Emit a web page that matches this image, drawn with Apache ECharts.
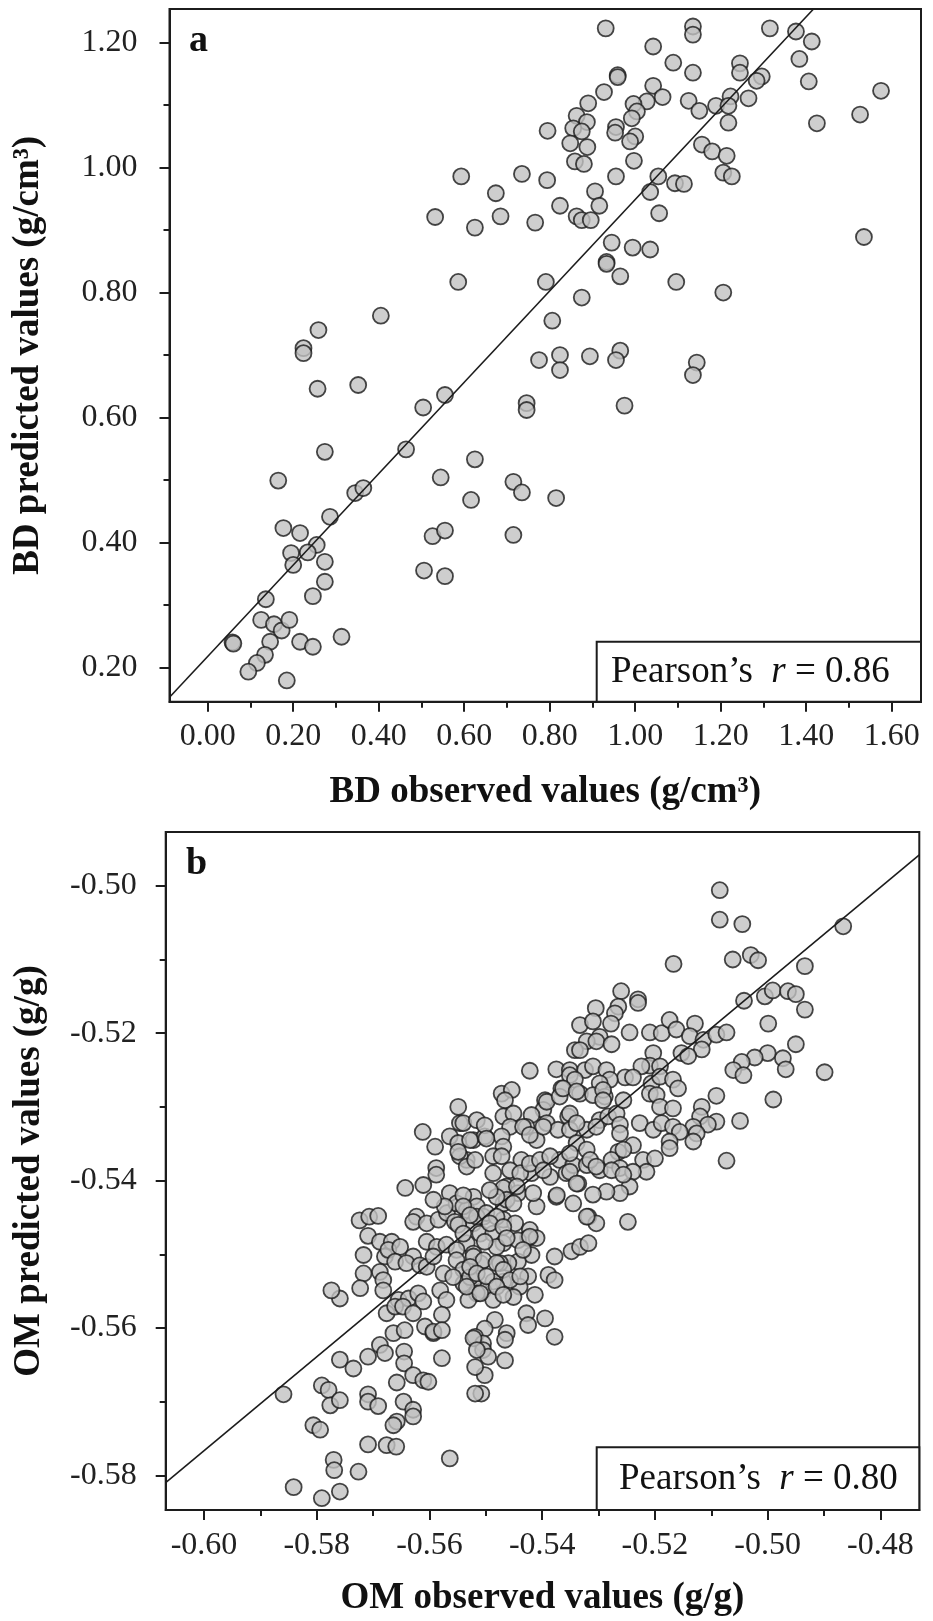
<!DOCTYPE html>
<html><head><meta charset="utf-8">
<script src="https://cdn.jsdelivr.net/npm/echarts@6/dist/echarts.min.js"></script>
<style>html,body{margin:0;padding:0;background:#fff}#c{width:933px;height:1621px}</style>
</head><body><div id="c"></div>
<script>
// ---------- DATA ----------
// Panel a: BD observed (x) vs predicted (y), g/cm3
const bdPoints = [
[0.931,1.223],[1.135,1.226],[1.135,1.213],[1.315,1.223],[1.376,1.218],[1.413,1.202],[1.042,1.194],[1.089,1.168],
[1.135,1.152],[1.245,1.167],[1.245,1.152],[1.384,1.174],[1.296,1.146],[1.284,1.139],[1.406,1.138],[1.575,1.123],
[0.959,1.148],[0.959,1.145],[0.927,1.121],[0.890,1.103],[0.863,1.083],[0.887,1.073],[0.855,1.063],[0.875,1.058],
[0.848,1.039],[0.888,1.033],[0.859,1.010],[0.880,1.006],[0.795,1.059],[1.042,1.131],[1.064,1.113],[1.027,1.106],
[0.996,1.102],[1.004,1.090],[0.992,1.079],[0.955,1.065],[0.953,1.056],[1.000,1.050],[0.988,1.042],[0.997,1.011],
[1.125,1.107],[1.150,1.091],[1.189,1.099],[1.223,1.114],[1.218,1.099],[1.265,1.111],[1.218,1.072],[1.425,1.071],
[1.526,1.085],[1.156,1.037],[1.180,1.026],[1.214,1.019],[1.206,0.992],[1.226,0.986],[1.054,0.986],[1.035,0.961],
[1.093,0.975],[1.114,0.974],[0.955,0.986],[0.906,0.962],[0.916,0.939],[0.824,0.939],[0.863,0.922],[0.875,0.916],
[0.896,0.916],[0.735,0.990],[0.794,0.980],[0.674,0.959],[0.685,0.922],[0.625,0.904],[0.766,0.912],[0.593,0.986],
[1.056,0.927],[0.945,0.880],[0.994,0.872],[1.035,0.869],[0.933,0.849],[0.933,0.846],[0.965,0.826],[1.096,0.817],
[1.206,0.800],[1.535,0.889],[0.791,0.817],[0.875,0.792],[0.806,0.755],[0.775,0.692],[0.824,0.700],[0.824,0.676],
[0.894,0.698],[0.965,0.707],[0.955,0.692],[1.144,0.688],[1.135,0.668],[0.586,0.817],
[0.746,0.623],[0.746,0.612],[0.975,0.619],[0.625,0.533],[0.715,0.497],[0.735,0.480],[0.616,0.468],[0.815,0.471],[0.715,0.412],
[0.224,0.711],[0.224,0.703],[0.259,0.740],[0.405,0.763],[0.532,0.921],
[0.257,0.646],[0.352,0.652],[0.504,0.616],[0.555,0.636],[0.274,0.545],[0.464,0.549],[0.165,0.499],[0.545,0.504],
[0.345,0.479],[0.364,0.487],[0.286,0.441],[0.177,0.423],[0.216,0.415],[0.526,0.410],[0.555,0.419],[0.255,0.396],
[0.234,0.384],[0.195,0.383],[0.200,0.364],[0.274,0.369],[0.274,0.337],[0.246,0.314],[0.136,0.309],[0.506,0.355],
[0.555,0.346],[0.125,0.276],[0.155,0.269],[0.173,0.259],[0.191,0.276],[0.146,0.241],[0.216,0.241],[0.246,0.233],
[0.313,0.249],[0.058,0.240],[0.060,0.238],[0.134,0.220],[0.115,0.207],[0.095,0.193],[0.185,0.179]
];
// Panel b: OM observed (x) vs predicted (y), g/g
const omPoints = [
[-0.5085,-0.5006],[-0.5085,-0.5046],[-0.5045,-0.5052],[-0.4866,-0.5055],[-0.5167,-0.5106],
[-0.5062,-0.5100],[-0.5030,-0.5094],[-0.5017,-0.5101],[-0.4934,-0.5109],
[-0.5260,-0.5143],[-0.5230,-0.5154],[-0.5230,-0.5159],[-0.5042,-0.5156],
[-0.5005,-0.5150],[-0.4991,-0.5142],[-0.4964,-0.5143],[-0.4950,-0.5147],[-0.4934,-0.5168],[-0.4999,-0.5187],
[-0.5305,-0.5166],[-0.5265,-0.5164],[-0.5271,-0.5173],[-0.5333,-0.5189],[-0.5310,-0.5184],[-0.5278,-0.5187],
[-0.5245,-0.5199],[-0.5209,-0.5199],[-0.5188,-0.5200],[-0.5174,-0.5182],[-0.5162,-0.5195],
[-0.5129,-0.5187],[-0.5138,-0.5204],[-0.5114,-0.5209],[-0.5091,-0.5202],[-0.5073,-0.5199],
[-0.5298,-0.5205],[-0.5321,-0.5211],[-0.5304,-0.5211],[-0.5277,-0.5215],[-0.5117,-0.5222],
[-0.5342,-0.5223],[-0.5333,-0.5223],[-0.5153,-0.5227],[-0.5141,-0.5231],[-0.4950,-0.5215],
[-0.4973,-0.5234],[-0.4968,-0.5249],[-0.5000,-0.5227],[-0.5023,-0.5233],
[-0.5046,-0.5239],[-0.5061,-0.5250],[-0.5043,-0.5257],[-0.4899,-0.5253],
[-0.5203,-0.5227],[-0.5209,-0.5244],[-0.5191,-0.5245],[-0.5224,-0.5245],
[-0.5375,-0.5249],[-0.5351,-0.5250],[-0.5324,-0.5250],[-0.5310,-0.5245],[-0.5422,-0.5251],
[-0.5286,-0.5250],[-0.5253,-0.5260],[-0.5239,-0.5260],[-0.5280,-0.5263],[-0.5298,-0.5268],[-0.5351,-0.5257],[-0.5342,-0.5263],
[-0.5366,-0.5275],[-0.5333,-0.5282],[-0.5310,-0.5284],[-0.5289,-0.5286],
[-0.5206,-0.5268],[-0.5191,-0.5259],[-0.5168,-0.5263],[-0.5159,-0.5275],[-0.5209,-0.5282],[-0.5197,-0.5284],
[-0.5091,-0.5285],[-0.4990,-0.5290],[-0.5117,-0.5300],[-0.5120,-0.5313],[-0.5049,-0.5319],
[-0.5091,-0.5320],[-0.5106,-0.5324],[-0.5132,-0.5327],[-0.5126,-0.5336],[-0.5132,-0.5347],
[-0.5472,-0.5282],[-0.5454,-0.5277],[-0.5466,-0.5291],[-0.5469,-0.5313],[-0.5451,-0.5309],[-0.5457,-0.5327],
[-0.5395,-0.5291],[-0.5398,-0.5304],[-0.5392,-0.5322],[-0.5419,-0.5311],[-0.5428,-0.5327],[-0.5410,-0.5345],
[-0.5372,-0.5331],[-0.5354,-0.5313],[-0.5351,-0.5331],[-0.5339,-0.5349],
[-0.5321,-0.5331],[-0.5298,-0.5318],[-0.5283,-0.5313],[-0.5268,-0.5309],[-0.5262,-0.5324],[-0.5262,-0.5336],
[-0.5227,-0.5322],[-0.5203,-0.5331],[-0.5188,-0.5322],[-0.5168,-0.5327],[-0.5156,-0.5334],
[-0.5191,-0.5300],[-0.5168,-0.5302],
[-0.5239,-0.5352],[-0.5265,-0.5361],[-0.5277,-0.5372],[-0.5262,-0.5383],
[-0.5221,-0.5372],[-0.5200,-0.5370],[-0.5215,-0.5388],[-0.5239,-0.5388],[-0.5174,-0.5347],[-0.5174,-0.5356],
[-0.5073,-0.5373],[-0.5245,-0.5408],[-0.5262,-0.5417],[-0.5286,-0.5415],[-0.5310,-0.5419],
[-0.5318,-0.5449],[-0.5304,-0.5458],[-0.5248,-0.5456],
[-0.5336,-0.5404],[-0.5345,-0.5431],[-0.5375,-0.5422],[-0.5410,-0.5435],
[-0.5487,-0.5390],[-0.5522,-0.5422],[-0.5534,-0.5372],[-0.5522,-0.5345],[-0.5546,-0.5322],
[-0.5502,-0.5340],[-0.5472,-0.5340],[-0.5469,-0.5354],[-0.5487,-0.5367],
[-0.5437,-0.5372],[-0.5419,-0.5390],[-0.5386,-0.5395],[-0.5369,-0.5372],[-0.5357,-0.5390],[-0.5345,-0.5379],
[-0.5463,-0.5408],[-0.5443,-0.5417],[-0.5416,-0.5417],[-0.5469,-0.5431],
[-0.5321,-0.5358],[-0.5321,-0.5379],[-0.5298,-0.5386],
[-0.5469,-0.5453],[-0.5448,-0.5458],[-0.5422,-0.5467],[-0.5522,-0.5458],[-0.5510,-0.5472],
[-0.5378,-0.5503],[-0.5348,-0.5496],[-0.5333,-0.5490],[-0.5318,-0.5485],
[-0.5425,-0.5478],[-0.5410,-0.5478],[-0.5443,-0.5481],[-0.5419,-0.5501],[-0.5443,-0.5510],[-0.5460,-0.5512],[-0.5475,-0.5512],
[-0.5389,-0.5528],[-0.5378,-0.5535],
[-0.5425,-0.5530],[-0.5440,-0.5544],[-0.5413,-0.5555],[-0.5451,-0.5558],[-0.5469,-0.5537],[-0.5487,-0.5537],
[-0.5505,-0.5549],[-0.5487,-0.5562],[-0.5522,-0.5537],
[-0.5428,-0.5580],[-0.5425,-0.5596],[-0.5395,-0.5587],[-0.5378,-0.5612],
[-0.5484,-0.5589],[-0.5502,-0.5601],[-0.5519,-0.5612],[-0.5505,-0.5621],[-0.5463,-0.5607],[-0.5466,-0.5616],[-0.5505,-0.5630],[-0.5496,-0.5639],[-0.5466,-0.5644],
[-0.5502,-0.5664],[-0.5508,-0.5689],
[-0.5534,-0.5485],[-0.5522,-0.5499],[-0.5510,-0.5512],
[-0.5487,-0.5472],[-0.5469,-0.5485],[-0.5481,-0.5490],[-0.5502,-0.5483],
[-0.5612,-0.5334],[-0.5590,-0.5354],[-0.5588,-0.5383],[-0.5588,-0.5392],[-0.5643,-0.5410],[-0.5611,-0.5406],
[-0.5549,-0.5300],[-0.5540,-0.5322],[-0.5564,-0.5340],[-0.5549,-0.5349],[-0.5528,-0.5345],
[-0.5546,-0.5367],[-0.5549,-0.5361],[-0.5534,-0.5381],[-0.5519,-0.5372],
[-0.5516,-0.5318],[-0.5502,-0.5325],[-0.5499,-0.5343],
[-0.5724,-0.5454],[-0.5707,-0.5449],[-0.5691,-0.5448],
[-0.5709,-0.5475],[-0.5717,-0.5501],[-0.5688,-0.5483],[-0.5667,-0.5483],
[-0.5623,-0.5449],[-0.5629,-0.5456],[-0.5605,-0.5458],[-0.5584,-0.5453],[-0.5569,-0.5444],[-0.5555,-0.5456],
[-0.5679,-0.5503],[-0.5673,-0.5494],[-0.5652,-0.5490],[-0.5629,-0.5503],[-0.5605,-0.5483],[-0.5587,-0.5490],[-0.5570,-0.5487],
[-0.5688,-0.5524],[-0.5682,-0.5535],[-0.5717,-0.5526],[-0.5723,-0.5546],[-0.5759,-0.5560],[-0.5774,-0.5549],
[-0.5661,-0.5510],[-0.5641,-0.5512],[-0.5617,-0.5515],[-0.5605,-0.5517],
[-0.5682,-0.5549],[-0.5655,-0.5562],[-0.5637,-0.5560],[-0.5620,-0.5553],[-0.5611,-0.5564],
[-0.5581,-0.5549],[-0.5570,-0.5562],[-0.5575,-0.5526],[-0.5593,-0.5503],
[-0.5552,-0.5494],[-0.5552,-0.5508],[-0.5540,-0.5521],[-0.5540,-0.5540],[-0.5528,-0.5531],[-0.5558,-0.5531],[-0.5516,-0.5553],[-0.5531,-0.5562],
[-0.5564,-0.5417],[-0.5552,-0.5431],[-0.5534,-0.5440],[-0.5573,-0.5435],[-0.5593,-0.5426],[-0.5540,-0.5420],
[-0.5516,-0.5435],[-0.5504,-0.5449],
[-0.5676,-0.5580],[-0.5661,-0.5571],[-0.5647,-0.5571],[-0.5629,-0.5580],[-0.5608,-0.5598],[-0.5593,-0.5607],
[-0.5664,-0.5607],[-0.5644,-0.5603],
[-0.5759,-0.5643],[-0.5735,-0.5655],[-0.5709,-0.5639],[-0.5859,-0.5690],[-0.5791,-0.5678],[-0.5779,-0.5684],
[-0.5776,-0.5705],[-0.5759,-0.5698],[-0.5806,-0.5732],[-0.5794,-0.5738],
[-0.5709,-0.5690],[-0.5709,-0.5700],[-0.5691,-0.5706],[-0.5709,-0.5758],[-0.5676,-0.5759],[-0.5659,-0.5761],
[-0.5770,-0.5779],[-0.5769,-0.5793],[-0.5726,-0.5795],[-0.5841,-0.5816],[-0.5791,-0.5831],[-0.5759,-0.5822],
[-0.5564,-0.5777],[-0.5688,-0.5623],[-0.5679,-0.5634],
[-0.5645,-0.5632],[-0.5645,-0.5648],[-0.5629,-0.5664],[-0.5611,-0.5671],[-0.5602,-0.5673],[-0.5658,-0.5674],
[-0.5646,-0.5700],[-0.5629,-0.5711],[-0.5629,-0.5720],[-0.5658,-0.5727],[-0.5664,-0.5732],
[-0.5578,-0.5641],[-0.5578,-0.5582],[-0.5593,-0.5605],[-0.5578,-0.5603],[-0.5522,-0.5614],[-0.5516,-0.5630],[-0.5519,-0.5653],[-0.5519,-0.5689],
// dense core (partly hidden circles)
[-0.5392,-0.5293],[-0.5369,-0.5286],[-0.5363,-0.5275],[-0.5339,-0.5279],[-0.5292,-0.5277],[-0.5292,-0.5291],[-0.5256,-0.5291],
[-0.5434,-0.5327],[-0.5422,-0.5338],[-0.5398,-0.5327],[-0.5351,-0.5309],[-0.5339,-0.5322],[-0.5304,-0.5327],
[-0.5256,-0.5358],[-0.5277,-0.5386],[-0.5256,-0.5392],[-0.5472,-0.5367],[-0.5457,-0.5386],[-0.5439,-0.5390],
[-0.5422,-0.5377],[-0.5404,-0.5372],[-0.5386,-0.5367],[-0.5351,-0.5363],[-0.5315,-0.5372],[-0.5304,-0.5381],
[-0.5398,-0.5386],[-0.5351,-0.5388],[-0.5339,-0.5404],[-0.5469,-0.5410],[-0.5445,-0.5408],[-0.5374,-0.5420],[-0.5321,-0.5449],
[-0.5463,-0.5426],[-0.5451,-0.5431],[-0.5481,-0.5422],[-0.5493,-0.5413],
[-0.5516,-0.5449],[-0.5499,-0.5444],[-0.5481,-0.5449],[-0.5493,-0.5458],[-0.5469,-0.5463],[-0.5463,-0.5478],
[-0.5540,-0.5435],[-0.5528,-0.5447],[-0.5549,-0.5460],[-0.5540,-0.5472],[-0.5422,-0.5476],[-0.5434,-0.5494],
[-0.5522,-0.5503],[-0.5504,-0.5508],[-0.5528,-0.5517],[-0.5516,-0.5526],[-0.5499,-0.5530],[-0.5481,-0.5512],[-0.5469,-0.5521],
[-0.5457,-0.5535],[-0.5439,-0.5530],[-0.5534,-0.5544],[-0.5510,-0.5553],[-0.5481,-0.5544],[-0.5469,-0.5555]
];
// Fitted lines (endpoints at the plot frame)
const bdFitLine = [[-0.0894, 0.152], [1.417, 1.254]];
const omFitLine = [[-0.6068, -0.5810], [-0.4731, -0.4958]];
// Tick values
const bdXTicks = [0.00, 0.20, 0.40, 0.60, 0.80, 1.00, 1.20, 1.40, 1.60];
const bdXMinor = [0.10, 0.30, 0.50, 0.70, 0.90, 1.10, 1.30, 1.50];
const bdYTicks = [0.20, 0.40, 0.60, 0.80, 1.00, 1.20];
const bdYMinor = [0.30, 0.50, 0.70, 0.90, 1.10];
const omXTicks = [-0.60, -0.58, -0.56, -0.54, -0.52, -0.50, -0.48];
const omXMinor = [-0.59, -0.57, -0.55, -0.53, -0.51, -0.49];
const omYTicks = [-0.58, -0.56, -0.54, -0.52, -0.50];
const omYMinor = [-0.57, -0.55, -0.53, -0.51];
// Texts
const panelLabels = ['a', 'b'];
const pearsonR = ['0.86', '0.80'];
const xNames = ['BD observed values (g/cm\u00B3)', 'OM observed values (g/g)'];
const yNames = ['BD predicted values (g/cm\u00B3)', 'OM predicted values (g/g)'];

// ---------- CHART ----------
const SERIF = 'Liberation Serif';
const INK = '#1c1c1c';
const chart = echarts.init(document.getElementById('c'), null, {renderer: 'canvas'});

function majorAxis(gridIndex, pos, min, max, ticks, name, nameGap, margin) {
  return {
    type: 'value', gridIndex, position: pos, min, max,
    axisLine: {show: true, onZero: false, lineStyle: {color: INK, width: 2}},
    axisTick: {show: true, length: 10, customValues: ticks, lineStyle: {color: INK, width: 2}},
    axisLabel: {customValues: ticks, formatter: v => Number(v).toFixed(2), fontFamily: SERIF,
      fontSize: 32, color: '#222', margin},
    splitLine: {show: false},
    name, nameLocation: 'middle', nameGap,
    nameTextStyle: {fontFamily: SERIF, fontWeight: 'bold', fontSize: 37, color: '#111'}
  };
}
function minorAxis(gridIndex, pos, min, max, ticks) {
  return {
    type: 'value', gridIndex, position: pos, min, max,
    axisLine: {show: false, onZero: false},
    axisTick: {show: true, length: 6, customValues: ticks, lineStyle: {color: INK, width: 2}},
    axisLabel: {show: false}, splitLine: {show: false}
  };
}
const A = {xmin: -0.0894, xmax: 1.6685, ymin: 0.145, ymax: 1.254};
const B = {xmin: -0.6068, xmax: -0.4731, ymin: -0.5847, ymax: -0.4927};

const pointStyle = {color: '#c2c2c2', borderColor: '#1a1a1a', borderWidth: 1.8};

const option = {
  backgroundColor: '#fff',
  animation: false,
  grid: [
    {left: 169.5, top: 9, width: 751.5, height: 692.7, show: true, borderColor: INK, borderWidth: 2, backgroundColor: 'transparent'},
    {left: 165.7, top: 832, width: 753.6, height: 678, show: true, borderColor: INK, borderWidth: 2, backgroundColor: 'transparent'}
  ],
  xAxis: [
    majorAxis(0, 'bottom', A.xmin, A.xmax, bdXTicks, xNames[0], 72, 19),
    minorAxis(0, 'bottom', A.xmin, A.xmax, bdXMinor),
    majorAxis(1, 'bottom', B.xmin, B.xmax, omXTicks, xNames[1], 70, 20),
    minorAxis(1, 'bottom', B.xmin, B.xmax, omXMinor)
  ],
  yAxis: [
    majorAxis(0, 'left', A.ymin, A.ymax, bdYTicks, yNames[0], 123, 32),
    minorAxis(0, 'left', A.ymin, A.ymax, bdYMinor),
    majorAxis(1, 'left', B.ymin, B.ymax, omYTicks, yNames[1], 118, 29),
    minorAxis(1, 'left', B.ymin, B.ymax, omYMinor)
  ],
  series: [
    {type: 'scatter', xAxisIndex: 0, yAxisIndex: 0, data: bdPoints, symbol: 'circle', symbolSize: 16,
     itemStyle: pointStyle, z: 2, silent: true},
    {type: 'line', xAxisIndex: 0, yAxisIndex: 0, data: bdFitLine, showSymbol: false, symbol: 'none',
     lineStyle: {color: INK, width: 1.6}, z: 3, silent: true, clip: true},
    {type: 'scatter', xAxisIndex: 2, yAxisIndex: 2, data: omPoints, symbol: 'circle', symbolSize: 16,
     itemStyle: pointStyle, z: 2, silent: true},
    {type: 'line', xAxisIndex: 2, yAxisIndex: 2, data: omFitLine, showSymbol: false, symbol: 'none',
     lineStyle: {color: INK, width: 1.6}, z: 3, silent: true, clip: true}
  ],
  graphic: [
    {type: 'text', left: 189, top: 22, z: 10,
     style: {text: panelLabels[0], fontFamily: SERIF, fontWeight: 'bold', fontSize: 38, fill: '#111'}},
    {type: 'text', left: 186, top: 845, z: 10,
     style: {text: panelLabels[1], fontFamily: SERIF, fontWeight: 'bold', fontSize: 38, fill: '#111'}},
    {type: 'rect', z: 10, shape: {x: 596.7, y: 641.7, width: 324.3, height: 60},
     style: {fill: '#fff', stroke: INK, lineWidth: 2}},
    {type: 'text', z: 11, x: 611, y: 672,
     style: {text: 'Pearson\u2019s  {i|r} = ' + pearsonR[0], fontFamily: SERIF, fontSize: 37, fill: '#111',
       verticalAlign: 'middle', rich: {i: {fontStyle: 'italic', fontFamily: SERIF, fontSize: 37, fill: '#111'}}}},
    {type: 'rect', z: 10, shape: {x: 596.7, y: 1447.3, width: 322.6, height: 62.7},
     style: {fill: '#fff', stroke: INK, lineWidth: 2}},
    {type: 'text', z: 11, x: 619, y: 1479,
     style: {text: 'Pearson\u2019s  {i|r} = ' + pearsonR[1], fontFamily: SERIF, fontSize: 37, fill: '#111',
       verticalAlign: 'middle', rich: {i: {fontStyle: 'italic', fontFamily: SERIF, fontSize: 37, fill: '#111'}}}}
  ]
};
chart.setOption(option);
</script></body></html>
